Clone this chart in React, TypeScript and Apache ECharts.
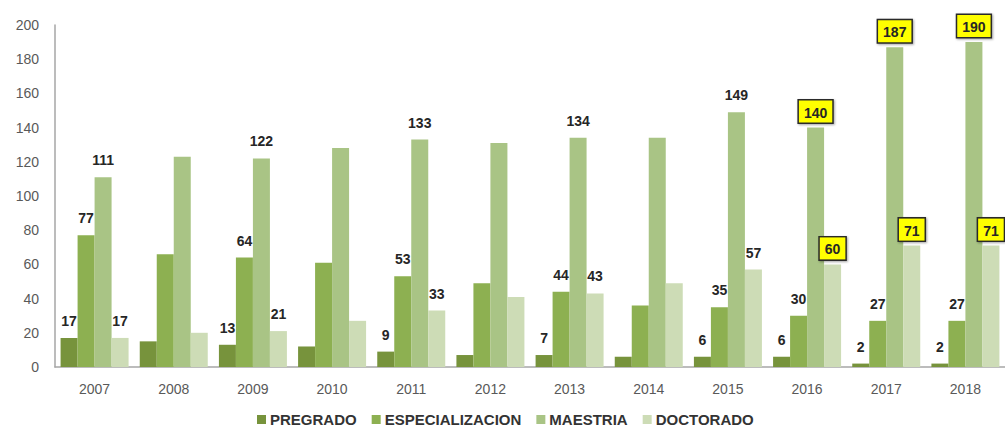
import React, { useEffect, useRef } from "react";
import * as echarts from "echarts";

const years = ["2007", "2008", "2009", "2010", "2011", "2012", "2013", "2014", "2015", "2016", "2017", "2018"];
const pregrado = [17, 15, 13, 12, 9, 7, 7, 6, 6, 6, 2, 2];
const especializacion = [77, 66, 64, 61, 53, 49, 44, 36, 35, 30, 27, 27];
const maestria = [111, 123, 122, 128, 133, 131, 134, 134, 149, 140, 187, 190];
const doctorado = [17, 20, 21, 27, 33, 41, 43, 49, 57, 60, 71, 71];
const labelledYears = ["2007", "2009", "2011", "2013", "2015", "2016", "2017", "2018"];
const boxedMaestria = ["2016", "2017", "2018"];
const boxedDoctorado = ["2016", "2017", "2018"];
const yTicks = { min: 0, max: 200, interval: 20 };

const colors = ["#77933C", "#8DB051", "#A9C485", "#CDDCB6"];
const FONT = "'Liberation Sans', Arial, sans-serif";

function buildData(values: number[], boxed: string[]) {
  return values.map((v, i) => {
    const y = years[i];
    const show = labelledYears.includes(y);
    const isBoxed = boxed.includes(y);
    const label: any = { show };
    if (isBoxed) {
      label.backgroundColor = "#FFFF00";
      label.borderColor = "#2a2a2a";
      label.borderWidth = 1.5;
      label.padding = [5, 5, 3, 5];
      label.distance = 5;
      label.shadowColor = "rgba(0,0,0,0.35)";
      label.shadowBlur = 2;
      label.shadowOffsetX = 1;
      label.shadowOffsetY = 1;
    }
    return { value: v, label };
  });
}

export default function App() {
  const ref = useRef<HTMLDivElement>(null);
  useEffect(() => {
    if (!ref.current) return;
    const chart = echarts.init(ref.current, null, { renderer: "svg" });
    const baseLabel = {
      show: false,
      position: "top",
      distance: 10,
      fontFamily: FONT,
      fontSize: 14,
      fontWeight: "bold",
      color: "#262626",
    };
    const names = ["PREGRADO", "ESPECIALIZACION", "MAESTRIA", "DOCTORADO"];
    const datasets = [
      buildData(pregrado, []),
      buildData(especializacion, []),
      buildData(maestria, boxedMaestria),
      buildData(doctorado, boxedDoctorado),
    ];
    chart.setOption({
      animation: false,
      color: colors,
      grid: { left: 55, right: -8, top: 25, bottom: 68, containLabel: false },
      legend: {
        data: names,
        left: 257,
        top: 412,
        padding: 0,
        itemWidth: 9,
        itemHeight: 9,
        itemGap: 15,
        icon: "rect",
        textStyle: { fontFamily: FONT, fontSize: 15, lineHeight: 15, fontWeight: "bold", color: "#333333", padding: [0, 0, 0, -1] },
      },
      xAxis: {
        type: "category",
        data: years,
        axisLine: { show: true, lineStyle: { color: "#A6A6A6", width: 1.5 } },
        axisTick: { show: false },
        axisLabel: { fontFamily: FONT, fontSize: 14, color: "#595959", margin: 15 },
      },
      yAxis: {
        type: "value",
        min: yTicks.min,
        max: yTicks.max,
        interval: yTicks.interval,
        axisLine: { show: true, lineStyle: { color: "#A6A6A6", width: 1.5 } },
        axisTick: { show: false },
        splitLine: { show: false },
        axisLabel: { fontFamily: FONT, fontSize: 14, color: "#595959", margin: 16 },
      },
      series: names.map((n, i) => ({
        name: n,
        type: "bar",
        barWidth: 17,
        barGap: "0%",
        data: datasets[i],
        label: baseLabel,
      })),
    });
    return () => chart.dispose();
  }, []);
  return (
    <div style={{ position: "fixed", left: 0, top: 0, width: 1005, height: 435, overflow: "hidden", background: "#fff" }}>
      <div ref={ref} style={{ width: 1005, height: 435 }} />
    </div>
  );
}
